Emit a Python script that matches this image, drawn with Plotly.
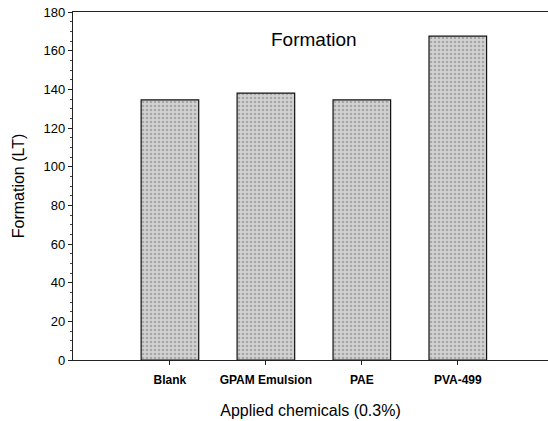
import plotly.graph_objects as go

categories = ["Blank", "GPAM Emulsion", "PAE", "PVA-499"]
formation = [134.5, 138, 134.5, 167.5]
y_ticks = [0, 20, 40, 60, 80, 100, 120, 140, 160, 180]

fig = go.Figure()
fig.add_trace(go.Bar(
    x=list(range(len(categories))),
    y=formation,
    width=0.6,
    marker=dict(
        color="#c8c8c8",
        line=dict(color="#111111", width=1.2),
        pattern=dict(shape=".", fgcolor="#7c7c7c", bgcolor="#d2d2d2", size=4, solidity=0.35),
    ),
    showlegend=False,
))

fig.update_layout(
    width=548, height=421,
    margin=dict(l=73, r=0, t=12, b=61),
    paper_bgcolor="white", plot_bgcolor="white",
    font=dict(family="Liberation Sans, Arial", color="black"),
    annotations=[dict(
        text="Formation", x=0.507, y=0.92, xref="paper", yref="paper",
        xanchor="center", yanchor="middle", showarrow=False,
        font=dict(size=19, color="black"),
    )],
)
fig.update_xaxes(
    range=[-1.01, 3.94],
    tickvals=list(range(len(categories))), ticktext=["<b>%s</b>" % c for c in categories],
    showline=True, linecolor="#222", linewidth=1.2, mirror=True,
    ticks="outside", ticklen=4, tickcolor="#222", ticklabelstandoff=4,
    showgrid=False, zeroline=False,
    tickfont=dict(size=12, color="black"),
    title=dict(text="Applied chemicals (0.3%)", font=dict(size=16, color="black"), standoff=19),
)
fig.update_yaxes(
    range=[0, 180], tickvals=y_ticks,
    showline=True, linecolor="#222", linewidth=1.2,
    ticks="outside", ticklen=4, tickcolor="#222",
    minor=dict(dtick=5, ticks="outside", ticklen=2, tickcolor="#444"),
    showgrid=False, zeroline=False,
    tickfont=dict(size=13, color="black"),
    title=dict(text="Formation (LT)", font=dict(size=16, color="black"), standoff=14),
)

fig.write_html("out.html", config={"displayModeBar": False},
               post_script="document.body.style.margin='0';")
